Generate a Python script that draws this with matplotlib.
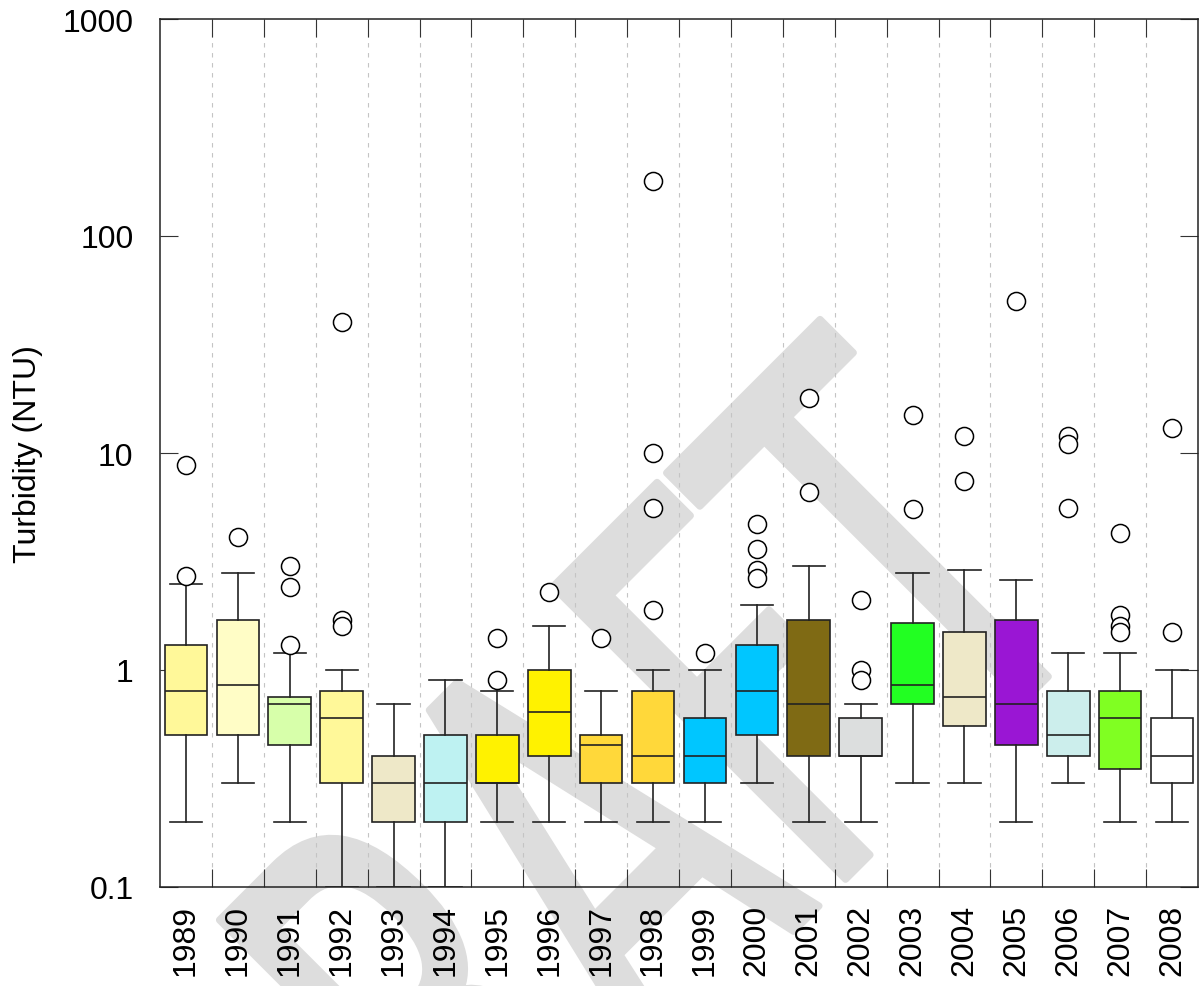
import matplotlib
matplotlib.use("Agg")
import matplotlib.pyplot as plt
import matplotlib.transforms as mtransforms
from matplotlib.textpath import TextPath
from matplotlib.patches import PathPatch
from matplotlib.font_manager import FontProperties
from matplotlib.ticker import NullLocator, FixedLocator

# yearly turbidity box statistics (NTU)
years = ["1989", "1990", "1991", "1992", "1993", "1994", "1995", "1996", "1997", "1998",
         "1999", "2000", "2001", "2002", "2003", "2004", "2005", "2006", "2007", "2008"]
whislo = [0.2, 0.3, 0.2, 0.1, 0.1, 0.1, 0.2, 0.2, 0.2, 0.2,
          0.2, 0.3, 0.2, 0.2, 0.3, 0.3, 0.2, 0.3, 0.2, 0.2]
q1 = [0.5, 0.5, 0.45, 0.3, 0.2, 0.2, 0.3, 0.4, 0.3, 0.3,
      0.3, 0.5, 0.4, 0.4, 0.7, 0.55, 0.45, 0.4, 0.35, 0.3]
med = [0.8, 0.85, 0.7, 0.6, 0.3, 0.3, 0.3, 0.64, 0.45, 0.4,
       0.4, 0.8, 0.7, 0.4, 0.85, 0.75, 0.7, 0.5, 0.6, 0.4]
q3 = [1.3, 1.7, 0.75, 0.8, 0.4, 0.5, 0.5, 1.0, 0.5, 0.8,
      0.6, 1.3, 1.7, 0.6, 1.65, 1.5, 1.7, 0.8, 0.8, 0.6]
whishi = [2.5, 2.8, 1.2, 1.0, 0.7, 0.9, 0.8, 1.6, 0.8, 1.0,
          1.0, 2.0, 3.0, 0.7, 2.8, 2.9, 2.6, 1.2, 1.2, 1.0]
fliers = [
    [8.8, 2.7],
    [4.1],
    [3.0, 2.4, 1.3],
    [40, 1.7, 1.6],
    [],
    [],
    [1.4, 0.9],
    [2.3],
    [1.4],
    [180, 10, 5.6, 1.9],
    [1.2],
    [4.7, 3.6, 2.9, 2.65],
    [18, 6.6],
    [2.1, 1.0, 0.9],
    [15, 5.5],
    [12, 7.4],
    [50],
    [12, 11, 5.6],
    [4.3, 1.8, 1.6, 1.5],
    [13, 1.5],
]
colors = ["#FFF899", "#FFFDC6", "#D7FFAA", "#FFF899", "#EEE8C8", "#BEF2F2", "#FFF200", "#FFF200",
          "#FFD83A", "#FFD83A", "#00C6FF", "#00C6FF", "#7F6A14", "#DCDEDE", "#22FF22", "#EEE8C8",
          "#9A16D4", "#CCEEEC", "#80FF22", "#FFFFFF"]

plt.rcParams["font.family"] = ["Liberation Sans", "DejaVu Sans"]

fig = plt.figure(figsize=(11.99, 9.87), dpi=100)
ax = fig.add_axes([160 / 1199, 99 / 987, 1038 / 1199, 868 / 987])
ax.set_facecolor("none")

# DRAFT watermark behind everything
tp = TextPath((0, 0), "DRAFT", size=568, prop=FontProperties(family="DejaVu Sans"))
tr = mtransforms.Affine2D().scale(0.62, 1.0).rotate_deg(45).translate(296, -443)
wm = PathPatch(tr.transform_path(tp), facecolor="#dddddd", edgecolor="#dddddd",
               lw=5, joinstyle="round", transform=mtransforms.IdentityTransform(), zorder=-1)
fig.add_artist(wm)

stats = []
for i in range(len(years)):
    stats.append(dict(med=med[i], q1=q1[i], q3=q3[i], whislo=whislo[i], whishi=whishi[i],
                      fliers=fliers[i], label=years[i]))

pos = list(range(1, len(years) + 1))
ec = "#222222"
bp = ax.bxp(stats, positions=pos, widths=0.82, capwidths=0.62, patch_artist=True,
            manage_ticks=False,
            boxprops=dict(edgecolor=ec, linewidth=1.2),
            whiskerprops=dict(color=ec, linewidth=1.2),
            capprops=dict(color=ec, linewidth=1.2),
            medianprops=dict(color=ec, linewidth=1.2),
            flierprops=dict(marker="o", markersize=13, markerfacecolor="white",
                            markeredgecolor="black", markeredgewidth=1.1))
for patch, c in zip(bp["boxes"], colors):
    patch.set_facecolor(c)

ax.set_yscale("log")
ax.set_ylim(0.1, 1000)
ax.set_xlim(0.5, len(years) + 0.5)

ax.yaxis.set_major_locator(FixedLocator([0.1, 1, 10, 100, 1000]))
ax.yaxis.set_minor_locator(NullLocator())
ax.set_yticklabels(["0.1", "1", "10", "100", "1000"])
ax.tick_params(axis="y", which="major", direction="in", length=13, width=0.8,
               left=True, right=True, labelsize=23, pad=19, colors="#333333",
               labelcolor="black")

# separators between years as major ticks + dashed grid, labels on minor ticks
ax.set_xticks([p + 0.5 for p in pos[:-1]])
ax.set_xticklabels([])
ax.set_xticks(pos, years, minor=True)
ax.tick_params(axis="x", which="major", direction="in", length=13, width=0.8,
               top=True, bottom=True, colors="#333333")
ax.tick_params(axis="x", which="minor", length=0, labelsize=23, pad=12, labelrotation=90)
ax.xaxis.grid(True, which="major", linestyle=(0, (4, 5)), color="#c4c4c4", linewidth=0.8)
ax.set_axisbelow(True)

for s in ax.spines.values():
    s.set_linewidth(1.1)
    s.set_color("#222222")

ax.set_ylabel("Turbidity (NTU)", fontsize=23, labelpad=14)

fig.savefig("out.png", dpi=100, facecolor="white")
